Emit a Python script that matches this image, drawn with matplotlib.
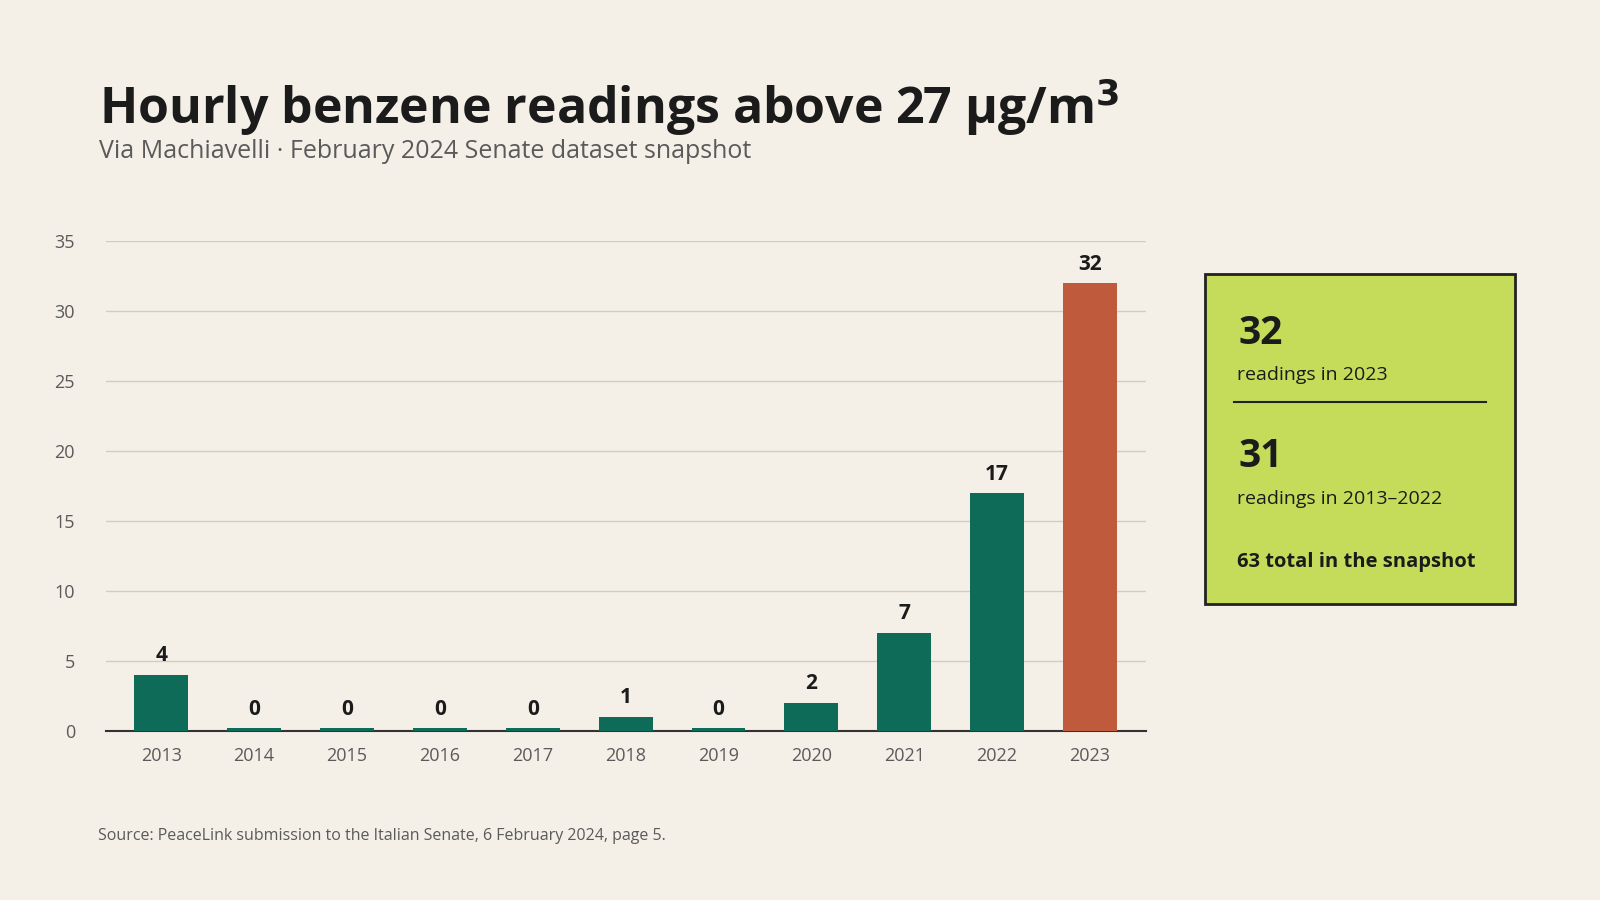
import matplotlib
matplotlib.use('Agg')
import matplotlib.pyplot as plt
from matplotlib.patches import Rectangle

years = ['2013', '2014', '2015', '2016', '2017', '2018', '2019', '2020', '2021', '2022', '2023']
readings = [4, 0, 0, 0, 0, 1, 0, 2, 7, 17, 32]

bg = '#f4f0e8'
green = '#0d6b58'
red = '#c05a3d'
dark = '#1b1b1b'
grey = '#5a5a5a'

plt.rcParams['font.family'] = ['Open Sans', 'DejaVu Sans']

fig = plt.figure(figsize=(16, 9), dpi=100, facecolor=bg)
ax = fig.add_axes([0.066, 0.188, 0.65, 0.544], facecolor=bg)

colors = [red if y == '2023' else green for y in years]
heights = [v if v > 0 else 0.2 for v in readings]
ax.bar(range(len(years)), heights, width=0.58, color=colors, zorder=3)
for i, v in enumerate(readings):
    ax.text(i, max(v, 0.2) + 0.6, str(v), ha='center', va='bottom',
            fontsize=15, fontweight='bold', color=dark, zorder=4)

ax.set_ylim(0, 35)
ax.set_xlim(-0.6, len(years) - 0.4)
ax.set_yticks(range(0, 36, 5))
ax.set_xticks(range(len(years)))
ax.set_xticklabels(years)
ax.grid(axis='y', color='#d3cdbf', linewidth=1, zorder=0)
for s in ['top', 'right', 'left']:
    ax.spines[s].set_visible(False)
ax.spines['bottom'].set_color('#333333')
ax.spines['bottom'].set_linewidth(1.5)
ax.tick_params(length=0, labelsize=13, colors=grey, pad=12)
ax.tick_params(axis='y', pad=22)

fig.text(0.062, 0.88, 'Hourly benzene readings above 27 µg/m$^{\\mathbf{3}}$',
         fontsize=36, fontweight='bold', color=dark, va='center')
fig.text(0.062, 0.832, 'Via Machiavelli · February 2024 Senate dataset snapshot',
         fontsize=18, color=grey, va='center')
fig.text(0.061, 0.071, 'Source: PeaceLink submission to the Italian Senate, 6 February 2024, page 5.',
         fontsize=11.5, color=grey, va='center')

# summary box
fig.patches.append(Rectangle((0.753, 0.329), 0.194, 0.366, transform=fig.transFigure,
                             facecolor='#c5dc5a', edgecolor='#222222', linewidth=2))
fig.text(0.774, 0.630, '32', fontsize=28, fontweight='bold', color=dark, va='center')
fig.text(0.773, 0.583, 'readings in 2023', fontsize=14, color=dark, va='center')
fig.add_artist(plt.Line2D([0.771, 0.929], [0.553, 0.553], transform=fig.transFigure,
                          color='#222222', linewidth=1.5))
fig.text(0.774, 0.493, '31', fontsize=28, fontweight='bold', color=dark, va='center')
fig.text(0.773, 0.446, 'readings in 2013–2022', fontsize=14, color=dark, va='center')
fig.text(0.773, 0.376, '63 total in the snapshot', fontsize=14.5, fontweight='bold',
         color=dark, va='center')

fig.savefig('out.png', facecolor=bg)
